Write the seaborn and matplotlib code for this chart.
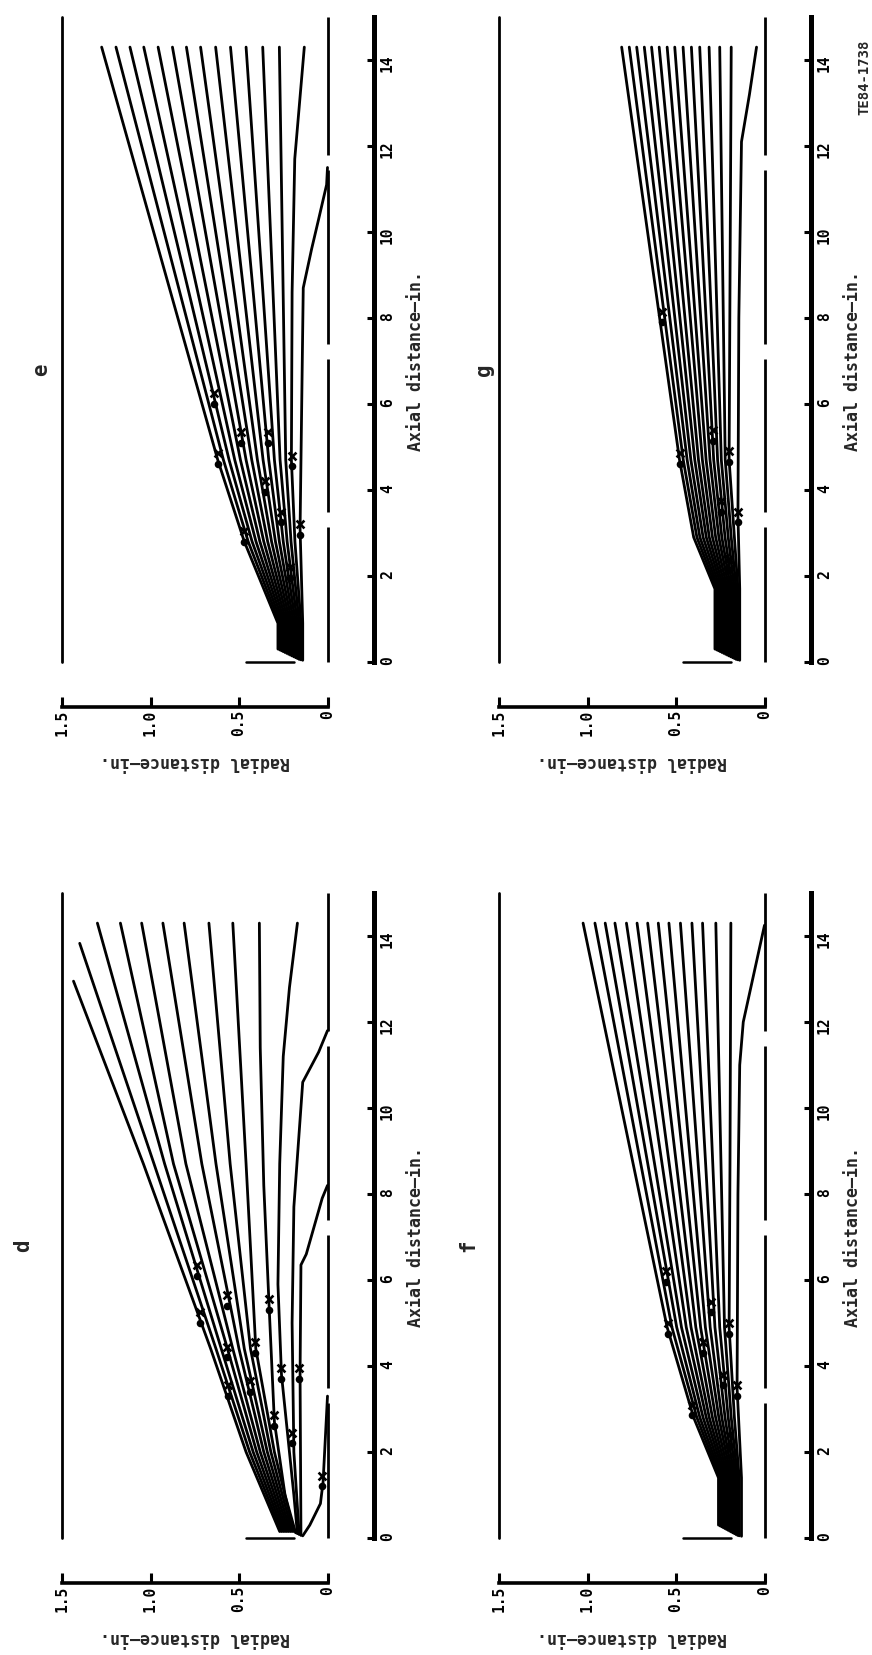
import matplotlib
matplotlib.use("Agg")
import matplotlib.pyplot as plt
import numpy as np
import pandas as pd
import seaborn as sns

sns.set_style("white")
plt.rcParams["font.family"] = ["DejaVu Sans Mono", "DejaVu Sans"]
plt.rcParams["font.weight"] = "bold"

# ---------------- data (axial distance a, radial distance r, inches) ----------------
radial_ticks = [1.5, 1.0, 0.5, 0.0]
radial_ticklabels = ["1.5", "1.0", "0.5", "0"]
axial_ticks = [0, 2, 4, 6, 8, 10, 12, 14]
axial_ticklabels = ["0", "2", "4", "6", "8", "10", "12", "14"]

centerline_start = [0.0, 3.5, 7.4, 11.8]
centerline_end = [3.15, 7.05, 11.45, 15.0]
outer_wall_a = [0.0, 15.0]
lip_r = [0.46, 0.19]

# panel d
d_start_a = [0.15, 0.15, 0.15, 0.15, 0.15, 0.15, 0.15, 0.15, 0.15]
d_start_r = [0.27, 0.26, 0.25, 0.24, 0.23, 0.22, 0.21, 0.20, 0.19]
d_station_a = [2.0, 4.4, 8.7]
d_r20 = [0.46, 0.44, 0.42, 0.40, 0.38, 0.36, 0.34, 0.32, 0.30]
d_r44 = [0.66, 0.63, 0.60, 0.565, 0.535, 0.50, 0.47, 0.435, 0.405]
d_r87 = [1.04, 0.98, 0.92, 0.87, 0.80, 0.71, 0.63, 0.55, 0.46]
d_end_a = [12.95, 13.83, 14.3, 14.3, 14.3, 14.3, 14.3, 14.3, 14.3]
d_end_r = [1.435, 1.40, 1.30, 1.17, 1.05, 0.93, 0.81, 0.67, 0.535]
d_special_a = [
    [0.12, 1.0, 2.7, 5.4, 8.2, 11.4, 14.3],
    [0.1, 1.0, 2.2, 3.8, 5.9, 8.7, 11.2, 12.8, 14.3],
    [0.08, 2.0, 5.0, 7.7, 10.6, 11.3, 11.8],
    [0.06, 3.8, 6.35, 6.6, 7.9, 8.2],
    [0.05, 0.3, 0.8, 1.3, 3.3],
]
d_special_r = [
    [0.18, 0.24, 0.30, 0.33, 0.36, 0.38, 0.385],
    [0.17, 0.19, 0.22, 0.26, 0.28, 0.27, 0.25, 0.215, 0.17],
    [0.16, 0.19, 0.20, 0.19, 0.14, 0.05, 0.0],
    [0.15, 0.155, 0.15, 0.12, 0.03, 0.0],
    [0.14, 0.10, 0.04, 0.025, 0.0],
]
d_o_a = [6.1, 5.0, 5.4, 4.2, 5.3, 4.3, 3.4, 3.7, 3.7, 2.6, 2.2, 1.2, 3.3]
d_o_r = [0.74, 0.72, 0.565, 0.565, 0.33, 0.41, 0.44, 0.26, 0.16, 0.30, 0.20, 0.03, 0.56]
d_x_a = [6.35, 5.25, 5.65, 4.45, 5.55, 4.55, 3.65, 3.95, 3.95, 2.85, 2.45, 1.45, 3.55]

# panel e
e_start_a = [0.30, 0.28, 0.26, 0.24, 0.22, 0.20, 0.18, 0.16, 0.14, 0.12, 0.10, 0.08, 0.06]
e_start_r = [0.28, 0.27, 0.26, 0.25, 0.24, 0.23, 0.22, 0.21, 0.20, 0.19, 0.18, 0.17, 0.16]
e_station_a = [0.9, 2.8, 4.7]
e_r28 = [0.47, 0.448, 0.426, 0.404, 0.382, 0.36, 0.338, 0.316, 0.294, 0.272, 0.25, 0.228, 0.206]
e_r47 = [0.62, 0.588, 0.556, 0.524, 0.492, 0.46, 0.428, 0.396, 0.364, 0.332, 0.30, 0.268, 0.236]
e_end_a = [14.3] * 13
e_end_r = [1.276, 1.195, 1.116, 1.038, 0.957, 0.876, 0.797, 0.717, 0.632, 0.548, 0.460, 0.366, 0.272]
e_special_a = [
    [0.05, 0.9, 2.8, 4.7, 8.6, 11.7, 14.3],
    [0.04, 0.9, 3.1, 8.7, 9.6, 10.3, 11.1, 11.5],
]
e_special_r = [
    [0.15, 0.15, 0.184, 0.204, 0.20, 0.185, 0.131],
    [0.14, 0.14, 0.155, 0.137, 0.09, 0.05, 0.005, 0.0],
]
e_o_a = [4.6, 6.0, 5.1, 5.1, 3.95, 3.25, 4.55, 2.95, 1.95, 2.8]
e_o_r = [0.62, 0.64, 0.49, 0.335, 0.355, 0.265, 0.20, 0.155, 0.21, 0.47]
e_x_a = [4.85, 6.25, 5.35, 5.35, 4.2, 3.5, 4.8, 3.2, 2.2, 3.05]

# panel f
f_start_a = [0.30, 0.28, 0.26, 0.24, 0.22, 0.20, 0.18, 0.16, 0.14, 0.12, 0.10, 0.08, 0.06]
f_start_r = [0.26, 0.251, 0.242, 0.233, 0.224, 0.215, 0.206, 0.197, 0.188, 0.179, 0.17, 0.161, 0.152]
f_station_a = [1.4, 2.8, 4.9]
f_r28 = [0.40, 0.382, 0.365, 0.347, 0.329, 0.312, 0.294, 0.276, 0.258, 0.241, 0.223, 0.205, 0.188]
f_r49 = [0.55, 0.523, 0.496, 0.469, 0.442, 0.415, 0.388, 0.361, 0.334, 0.307, 0.28, 0.253, 0.226]
f_end_a = [14.3] * 13
f_end_r = [1.025, 0.958, 0.90, 0.845, 0.78, 0.72, 0.66, 0.60, 0.54, 0.475, 0.41, 0.35, 0.275]
f_special_a = [
    [0.05, 1.4, 2.8, 4.9, 8.7, 14.3],
    [0.04, 1.4, 3.5, 8.0, 11.0, 12.0, 14.25],
]
f_special_r = [
    [0.143, 0.143, 0.17, 0.20, 0.195, 0.19],
    [0.13, 0.13, 0.155, 0.15, 0.14, 0.12, 0.0],
]
f_o_a = [4.75, 5.95, 5.25, 4.75, 3.3, 3.55, 2.15, 2.85, 4.3]
f_o_r = [0.546, 0.555, 0.30, 0.20, 0.155, 0.235, 0.20, 0.41, 0.35]
f_x_a = [5.0, 6.2, 5.5, 5.0, 3.55, 3.8, 2.4, 3.1, 4.55]

# panel g
g_start_a = [0.30, 0.28, 0.26, 0.24, 0.22, 0.20, 0.18, 0.16, 0.14, 0.12, 0.10, 0.08, 0.06, 0.05]
g_start_r = [0.28, 0.27, 0.26, 0.25, 0.24, 0.23, 0.22, 0.21, 0.20, 0.19, 0.18, 0.17, 0.16, 0.15]
g_station_a = [1.7, 2.9, 4.7]
g_r29 = [0.40, 0.382, 0.365, 0.347, 0.329, 0.312, 0.294, 0.276, 0.258, 0.241, 0.223, 0.205, 0.188, 0.17]
g_r47 = [0.48, 0.459, 0.437, 0.416, 0.394, 0.373, 0.351, 0.33, 0.308, 0.287, 0.265, 0.244, 0.222, 0.20]
g_end_a = [14.3] * 14
g_end_r = [0.807, 0.764, 0.722, 0.679, 0.638, 0.595, 0.550, 0.507, 0.460, 0.413, 0.366, 0.313, 0.253, 0.188]
g_special_a = [[0.04, 1.7, 3.4, 8.0, 12.1, 13.2, 14.3]]
g_special_r = [[0.14, 0.14, 0.15, 0.145, 0.13, 0.085, 0.045]]
g_o_a = [4.6, 4.65, 3.25, 3.5, 5.15, 2.15, 7.9]
g_o_r = [0.48, 0.20, 0.15, 0.245, 0.29, 0.20, 0.58]
g_x_a = [4.85, 4.9, 3.5, 3.75, 5.4, 2.4, 8.15]


def build_lines(start_a, start_r, station_a, station_r, end_a, end_r, special_a, special_r):
    rows = []
    n = 0
    for i in range(len(end_r)):
        pa = [start_a[i]] + list(station_a) + [end_a[i]]
        pr = [start_r[i]] + [s[i] for s in station_r] + [end_r[i]]
        for k, (aa, rr) in enumerate(zip(pa, pr)):
            rows.append((n, k, aa, rr))
        n += 1
    for sa, sr in zip(special_a, special_r):
        for k, (aa, rr) in enumerate(zip(sa, sr)):
            rows.append((n, k, aa, rr))
        n += 1
    return pd.DataFrame(rows, columns=["line", "k", "a", "r"])


panels = [
    dict(name="d", left=62, a0y=1538, lab_r=1.72,
         df=build_lines(d_start_a, d_start_r, d_station_a, [d_r20, d_r44, d_r87],
                        d_end_a, d_end_r, d_special_a, d_special_r),
         oa=d_o_a, orr=d_o_r, xa=d_x_a),
    dict(name="e", left=62, a0y=662, lab_r=1.62,
         df=build_lines(e_start_a, e_start_r, e_station_a, [e_start_r, e_r28, e_r47],
                        e_end_a, e_end_r, e_special_a, e_special_r),
         oa=e_o_a, orr=e_o_r, xa=e_x_a),
    dict(name="f", left=499, a0y=1538, lab_r=1.675,
         df=build_lines(f_start_a, f_start_r, f_station_a, [f_start_r, f_r28, f_r49],
                        f_end_a, f_end_r, f_special_a, f_special_r),
         oa=f_o_a, orr=f_o_r, xa=f_x_a),
    dict(name="g", left=499, a0y=662, lab_r=1.585,
         df=build_lines(g_start_a, g_start_r, g_station_a, [g_start_r, g_r29, g_r47],
                        g_end_a, g_end_r, g_special_a, g_special_r),
         oa=g_o_a, orr=g_o_r, xa=g_x_a),
]

W, H = 872, 1655
fig = plt.figure(figsize=(W / 100, H / 100), dpi=100)

PX_PER_R = 177.0
PX_PER_A = 43.0

for p in panels:
    w_px = 1.5 * PX_PER_R
    h_px = 15.0 * PX_PER_A
    ax = fig.add_axes([p["left"] / W, (H - p["a0y"]) / H, w_px / W, h_px / H])

    sns.lineplot(data=p["df"], x="r", y="a", units="line", estimator=None, sort=False,
                 color="black", linewidth=2.0, ax=ax, legend=False, clip_on=False)
    sns.scatterplot(x=p["orr"], y=p["oa"], marker="o", s=30, color="black",
                    linewidth=0, ax=ax, legend=False, clip_on=False, zorder=4)
    sns.scatterplot(x=p["orr"], y=p["xa"], marker="x", s=32, color="black",
                    linewidth=1.9, ax=ax, legend=False, clip_on=False, zorder=4)

    # outer boundary, centerline, lip
    ax.plot([1.5, 1.5], outer_wall_a, color="black", lw=2.0, clip_on=False)
    for s, e in zip(centerline_start, centerline_end):
        ax.plot([0.0, 0.0], [s, e], color="black", lw=2.0, clip_on=False, solid_capstyle="butt")
    ax.plot(lip_r, [0.0, 0.0], color="black", lw=1.8, clip_on=False)

    ax.set_xlim(1.5, 0.0)
    ax.set_ylim(0.0, 15.0)
    ax.set_xlabel("")
    ax.set_ylabel("")
    ax.set_facecolor("none")

    ax.spines["top"].set_visible(False)
    ax.spines["left"].set_visible(False)
    ax.spines["bottom"].set_position(("outward", 32.4))
    ax.spines["bottom"].set_bounds(0.0, 1.5)
    ax.spines["bottom"].set_linewidth(2.6)
    ax.spines["bottom"].set_color("black")
    ax.spines["right"].set_visible(True)
    ax.spines["right"].set_position(("outward", 33.8))
    ax.spines["right"].set_bounds(0.0, 15.0)
    ax.spines["right"].set_linewidth(3.6)
    ax.spines["right"].set_color("black")

    ax.yaxis.tick_right()
    ax.set_xticks(radial_ticks)
    ax.set_xticklabels(radial_ticklabels)
    ax.set_yticks(axial_ticks)
    ax.set_yticklabels(axial_ticklabels)
    ax.tick_params(axis="x", direction="in", length=7, width=2.2, labelrotation=90,
                   pad=2, labelsize=10.5, bottom=True, top=False, colors="black")
    ax.tick_params(axis="y", direction="in", length=5, width=2.2, labelrotation=90,
                   pad=4, labelsize=10.5, right=True, left=False, colors="black")
    for t in ax.get_xticklabels() + ax.get_yticklabels():
        t.set_fontweight("bold")

    ax.text(p["lab_r"], 6.8, p["name"], rotation=90, ha="center", va="center",
            fontsize=15, fontweight="bold", clip_on=False)
    ax.text(-0.50, 7.0, "Axial distance\u2014in.", rotation=90, ha="center", va="center",
            fontsize=12, fontweight="bold", clip_on=False)
    ax.text(0.75, -2.33, "Radial distance\u2014in.", rotation=180, ha="center", va="center",
            fontsize=12, fontweight="bold", clip_on=False)
    if p["name"] == "g":
        ax.text(-0.565, 13.6, "TE84-1738", rotation=90, ha="center", va="center",
                fontsize=10, fontweight="bold", clip_on=False)

fig.savefig("out.png", dpi=100, facecolor="white")
